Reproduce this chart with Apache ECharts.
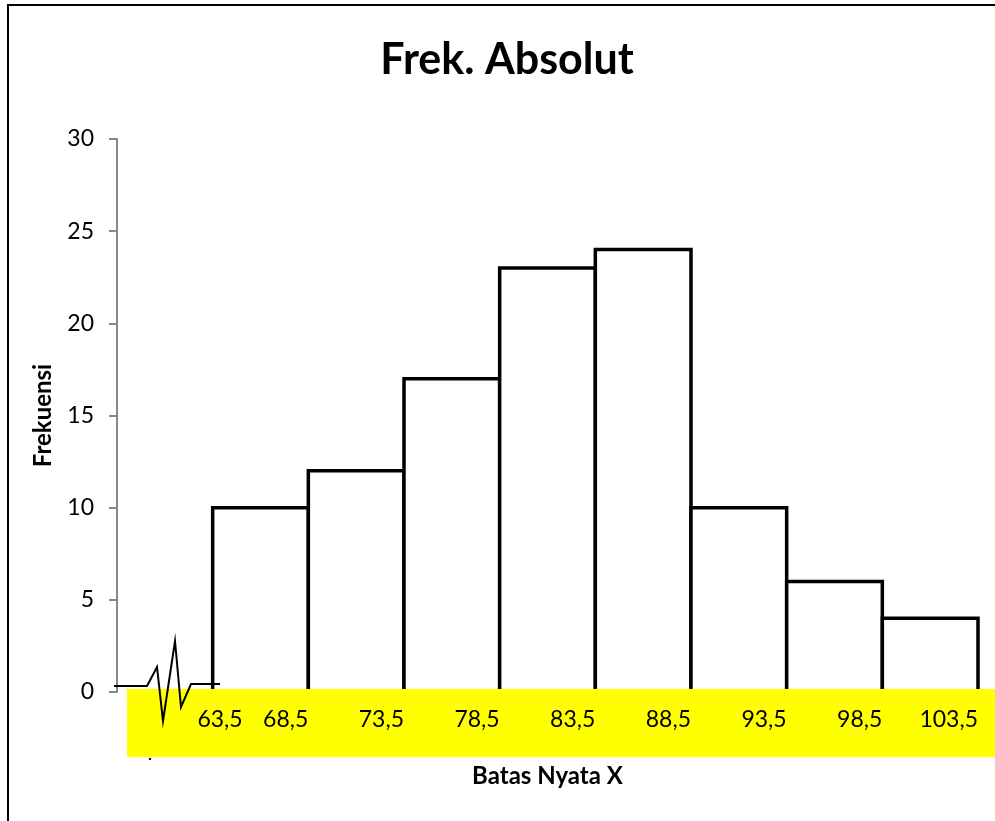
<!DOCTYPE html>
<html>
<head>
<meta charset="utf-8">
<script src="https://cdn.jsdelivr.net/npm/echarts@6/dist/echarts.min.js"></script>
<style>
  html, body { margin: 0; padding: 0; background: #fff; }
  #chart { width: 995px; height: 821px; }
</style>
</head>
<body>
<div id="chart"></div>
<script>
// Class boundaries (batas nyata) and absolute frequencies per class
const lowerBounds = [63.5, 68.5, 73.5, 78.5, 83.5, 88.5, 93.5, 98.5];
const upperBounds = [68.5, 73.5, 78.5, 83.5, 88.5, 93.5, 98.5, 103.5];
const frequencies = [10, 12, 17, 23, 24, 10, 6, 4];
const xTickLabels = ['63,5', '68,5', '73,5', '78,5', '83,5', '88,5', '93,5', '98,5', '103,5'];
const yTicks = [0, 5, 10, 15, 20, 25, 30];

const FONT = 'Lato';
const chart = echarts.init(document.getElementById('chart'));

const barData = frequencies.map((f, i) => [lowerBounds[i], upperBounds[i], f]);

chart.setOption({
  animation: false,
  title: {
    text: 'Frek. Absolut',
    left: 502,
    top: 34,
    textAlign: 'center',
    textStyle: { fontFamily: FONT, fontWeight: 'bold', fontSize: 43, color: '#000' }
  },
  grid: { left: 117, right: 17, top: 139, bottom: 129 },
  xAxis: {
    type: 'value',
    min: 58.5,
    max: 103.5,
    interval: 5,
    z: 10,
    name: 'Batas Nyata X',
    nameLocation: 'middle',
    nameGap: 72,
    nameTextStyle: { fontFamily: FONT, fontWeight: 'bold', fontSize: 24, color: '#000' },
    axisLine: { show: false },
    axisTick: { show: false },
    splitLine: { show: false },
    axisLabel: {
      fontFamily: FONT,
      fontSize: 23,
      color: '#000',
      align: 'right',
      margin: 16,
      formatter: function (v) {
        const idx = Math.round((v - 63.5) / 5);
        if (idx < 0 || idx >= xTickLabels.length) return '';
        // the first boundary label sits just past the axis break
        return idx === 0 ? '{first|' + xTickLabels[idx] + '}' : xTickLabels[idx];
      },
      rich: {
        first: { fontFamily: FONT, fontSize: 23, color: '#000', padding: [0, -30, 0, 0] }
      }
    }
  },
  yAxis: {
    type: 'value',
    min: yTicks[0],
    max: yTicks[yTicks.length - 1],
    interval: 5,
    name: 'Frekuensi',
    nameLocation: 'middle',
    nameGap: 62,
    nameRotate: 90,
    nameTextStyle: { fontFamily: FONT, fontWeight: 'bold', fontSize: 24, color: '#000' },
    axisLine: { show: true, lineStyle: { color: '#888', width: 2 } },
    axisTick: { show: true, inside: false, length: 8, lineStyle: { color: '#888', width: 2 } },
    splitLine: { show: false },
    axisLabel: { fontFamily: FONT, fontSize: 23, color: '#000', margin: 23 }
  },
  series: [{
    type: 'custom',
    z: 2,
    data: barData,
    encode: { x: [0, 1], y: 2 },
    renderItem: function (params, api) {
      const p0 = api.coord([api.value(0), 0]);
      const p1 = api.coord([api.value(1), api.value(2)]);
      return {
        type: 'rect',
        shape: { x: p0[0], y: p1[1], width: p1[0] - p0[0], height: p0[1] - p1[1] },
        style: { fill: '#fff', stroke: '#000', lineWidth: 3.5 }
      };
    }
  }],
  graphic: [
    // outer frame (left and top edges)
    { type: 'line', z: 20, shape: { x1: 8, y1: 5, x2: 8, y2: 821 }, style: { stroke: '#000', lineWidth: 2 } },
    { type: 'line', z: 20, shape: { x1: 7, y1: 5, x2: 995, y2: 5 }, style: { stroke: '#000', lineWidth: 2 } },
    // highlighted band behind the boundary labels
    { type: 'rect', z: 5, shape: { x: 127, y: 689, width: 868, height: 68 }, style: { fill: '#ffff00' } },
    // axis break mark
    {
      type: 'polyline', z: 6,
      shape: { points: [[114, 686], [147, 686], [157, 667], [163, 721], [175, 641], [181, 707], [191, 684], [220, 684]] },
      style: { stroke: '#000', lineWidth: 2, fill: null }
    },
    { type: 'rect', z: 6, shape: { x: 149, y: 758, width: 2, height: 2 }, style: { fill: '#000' } }
  ]
});
</script>
</body>
</html>
